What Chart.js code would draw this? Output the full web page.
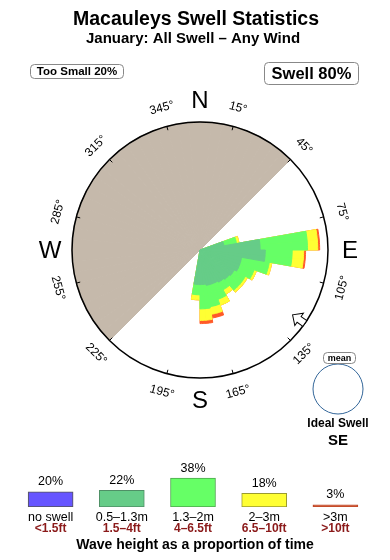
<!DOCTYPE html>
<html>
<head>
<meta charset="utf-8">
<title>Macauleys Swell Statistics</title>
<script src="https://cdn.jsdelivr.net/npm/chart.js@4.4.1/dist/chart.umd.min.js"></script>
<style>
  body { margin: 0; background: #fff; }
  #wrap { position: relative; width: 390px; height: 560px; }
  #rose { position: absolute; left: 0; top: 0; }
  #bars { position: absolute; left: 0; top: 455px; }
</style>
</head>
<body>
<div id="wrap">
  <canvas id="rose" width="390" height="560"></canvas>
  <canvas id="bars" width="390" height="105"></canvas>
</div>
<script>
// direction bins (centre of each 10 deg bin, compass bearing)
const directions = [75, 85, 95, 105, 115, 125, 135, 145, 155, 165, 175, 185];
const binWidth = 10;
// share of time per bin for each wave height band (%)
const band1 = [1.9, 4.7, 5.1, 3.3, 3.3, 3.1, 3.0, 2.9, 2.8, 2.8, 2.7, 2.7]; // 0.5-1.3m
const band2 = [1.0, 3.7, 2.1, 2.2, 1.2, 1.0, 1.1, 0.7, 1.3, 1.7, 1.9, 0.8]; // 1.3-2m
const band3 = [0.2, 0.8, 0.9, 0.2, 0.2, 0.2, 0.2, 0.4, 0.5, 0.6, 0.9, 0.4]; // 2-3m
const band4 = [0.0, 0.15, 0.15, 0, 0, 0, 0, 0, 0, 0.3, 0.25, 0];           // >3m
const roseMax = 10;

// sheltered directions (swell can't reach)
const shelterFrom = 225;
const shelterTo = 45;
const meanDirection = 125;

const degreeTicks = [15, 45, 75, 105, 135, 165, 195, 225, 255, 285, 315, 345];
const compassPoints = ['N', 'E', 'S', 'W'];
const compassAngles = [0, 90, 180, 270];

// bottom legend
const bandNames = ['no swell', '0.5–1.3m', '1.3–2m', '2–3m', '>3m'];
const bandFeet = ['<1.5ft', '1.5–4ft', '4–6.5ft', '6.5–10ft', '>10ft'];
const bandShare = [20, 22, 38, 18, 3];
const bandColors = ['#6655ff', '#66cc88', '#66ff66', '#ffff33', '#d05530'];
const bandBorders = ['#555', '#4f8f66', '#4fa64f', '#9a9a30', '#c04a28'];
const tooSmall = 20;
const swellShare = 80;

const fontFamily = '"Liberation Sans", Arial, Helvetica, sans-serif';
Chart.defaults.font.family = fontFamily;
Chart.defaults.color = '#000';

// polar area needs equal slices, so split the circle in 5 deg pieces
const sliceStep = 5;
const sliceAngles = [];
for (let a = 0; a < 360; a += sliceStep) sliceAngles.push(a);

function toSlices(values) {
    return sliceAngles.map(function(a) {
        const k = directions.findIndex(d => a >= d - binWidth / 2 && a < d + binWidth / 2);
        return k === -1 ? 0 : values[k];
    });
}

// stacked totals, outer band first gets drawn underneath
const upTo1 = band1;
const upTo2 = band1.map((v, i) => v + band2[i]);
const upTo3 = upTo2.map((v, i) => v + band3[i]);
const upTo4 = upTo3.map((v, i) => v + band4[i]);
const shelter = sliceAngles.map(a => (a >= shelterFrom || a < shelterTo) ? roseMax : 0);

function drawBox(ctx, x, y, w, h, text, font) {
    ctx.save();
    ctx.beginPath();
    ctx.roundRect(x + 0.5, y + 0.5, w, h, 4);
    ctx.fillStyle = '#fff';
    ctx.fill();
    ctx.strokeStyle = '#888';
    ctx.lineWidth = 1;
    ctx.stroke();
    ctx.fillStyle = '#000';
    ctx.font = font + ' ' + fontFamily;
    ctx.textAlign = 'center';
    ctx.textBaseline = 'middle';
    ctx.fillText(text, x + w / 2 + 0.5, y + h / 2 + 1);
    ctx.restore();
}

const roseDecor = {
    id: 'roseDecor',
    afterDraw(chart) {
        const ctx = chart.ctx;
        const r = chart.scales.r;
        const cx = r.xCenter, cy = r.yCenter, R = r.drawingArea;
        const pt = function(deg, d) {
            const t = deg * Math.PI / 180;
            return [cx + d * Math.sin(t), cy - d * Math.cos(t)];
        };

        ctx.save();
        ctx.fillStyle = '#000';
        ctx.textAlign = 'center';
        ctx.textBaseline = 'middle';

        // titulos
        ctx.font = 'bold 19.5px ' + fontFamily;
        ctx.fillText('Macauleys Swell Statistics', 196, 20);
        ctx.font = 'bold 15px ' + fontFamily;
        ctx.fillText('January: All Swell – Any Wind', 193, 39);

        drawBox(ctx, 30, 64, 93, 14, 'Too Small ' + tooSmall + '%', 'bold 11.5px');
        drawBox(ctx, 264, 62, 94, 22, 'Swell ' + swellShare + '%', 'bold 16.5px');

        // degree ticks + labels
        ctx.strokeStyle = '#000';
        ctx.lineWidth = 1;
        degreeTicks.forEach(function(deg) {
            const a = pt(deg, R - 4), b = pt(deg, R);
            ctx.beginPath();
            ctx.moveTo(a[0], a[1]);
            ctx.lineTo(b[0], b[1]);
            ctx.stroke();
            const p = pt(deg, R + 19);
            const rot = (deg <= 90 || deg >= 270) ? deg : deg - 180;
            ctx.save();
            ctx.translate(p[0], p[1]);
            ctx.rotate(rot * Math.PI / 180);
            ctx.font = '12px ' + fontFamily;
            ctx.fillText(deg + '°', 0, 0);
            ctx.restore();
        });

        ctx.font = '24px ' + fontFamily;
        compassPoints.forEach(function(name, i) {
            const p = pt(compassAngles[i], R + 22);
            ctx.fillText(name, p[0], p[1] + 1);
        });

        // mean direction arrow
        ctx.save();
        ctx.translate(cx, cy);
        ctx.rotate(meanDirection * Math.PI / 180);
        ctx.beginPath();
        ctx.moveTo(0, -(R - 15));
        ctx.lineTo(7.5, -(R - 7));
        ctx.lineTo(3.5, -(R - 7));
        ctx.lineTo(3.5, -R);
        ctx.lineTo(-3.5, -R);
        ctx.lineTo(-3.5, -(R - 7));
        ctx.lineTo(-7.5, -(R - 7));
        ctx.closePath();
        ctx.fillStyle = '#fff';
        ctx.fill();
        ctx.strokeStyle = '#000';
        ctx.lineWidth = 1;
        ctx.stroke();
        ctx.restore();

        // ideal swell marker
        ctx.strokeStyle = '#336699';
        ctx.lineWidth = 1;
        ctx.beginPath();
        ctx.arc(338, 389, 25, 0, Math.PI * 2);
        ctx.stroke();
        drawBox(ctx, 323, 352, 32, 11, 'mean', 'bold 9px');
        ctx.fillStyle = '#000';
        ctx.font = 'bold 12px ' + fontFamily;
        ctx.fillText('Ideal Swell', 338, 424);
        ctx.font = 'bold 15px ' + fontFamily;
        ctx.fillText('SE', 338, 441);
        ctx.restore();
    }
};

function roseSet(label, data, color) {
    return { label: label, data: data, backgroundColor: color, borderColor: color, borderWidth: 1 };
}

const roseChart = new Chart(document.getElementById('rose'), {
    type: 'polarArea',
    data: {
        labels: sliceAngles,
        datasets: [
            roseSet('0.5-1.3m', toSlices(upTo1), '#66cc88'),
            roseSet('1.3-2m', toSlices(upTo2), '#66ff66'),
            roseSet('2-3m', toSlices(upTo3), '#ffff33'),
            roseSet('>3m', toSlices(upTo4), '#ff5a28'),
            roseSet('sheltered', shelter, '#c5b9ab')
        ]
    },
    options: {
        responsive: false,
        animation: false,
        layout: { padding: { left: 72, right: 62, top: 122, bottom: 182 } },
        plugins: { legend: { display: false }, tooltip: { enabled: false } },
        scales: {
            r: {
                min: 0,
                max: roseMax,
                startAngle: 0,
                ticks: { display: false, stepSize: roseMax },
                grid: { color: '#000', lineWidth: 1.5, z: 1 },
                angleLines: { display: false },
                pointLabels: { display: false }
            }
        }
    },
    plugins: [roseDecor]
});

const barText = {
    id: 'barText',
    afterDatasetsDraw(chart) {
        const ctx = chart.ctx;
        const meta = chart.getDatasetMeta(0);
        const base = chart.chartArea.bottom;
        ctx.save();
        ctx.textAlign = 'center';
        ctx.textBaseline = 'middle';
        meta.data.forEach(function(bar, i) {
            ctx.fillStyle = '#000';
            ctx.font = '12.5px ' + fontFamily;
            ctx.fillText(bandShare[i] + '%', bar.x, bar.y - 10);
            ctx.fillText(bandNames[i], bar.x, base + 11);
            ctx.fillStyle = '#8b1a1a';
            ctx.font = 'bold 12px ' + fontFamily;
            ctx.fillText(bandFeet[i], bar.x, base + 22);
        });
        ctx.fillStyle = '#000';
        ctx.font = 'bold 14px ' + fontFamily;
        ctx.fillText('Wave height as a proportion of time', 195, base + 38);
        ctx.restore();
    }
};

const barChart = new Chart(document.getElementById('bars'), {
    type: 'bar',
    data: {
        labels: bandNames,
        datasets: [{
            data: bandShare,
            backgroundColor: bandColors,
            borderColor: bandBorders,
            borderWidth: 1,
            borderSkipped: false,
            barThickness: 45
        }]
    },
    options: {
        responsive: false,
        animation: false,
        layout: { padding: { left: 15, right: 19, top: 14, bottom: 53 } },
        plugins: { legend: { display: false }, tooltip: { enabled: false } },
        scales: {
            x: { display: false },
            y: { display: false, min: 0, max: 50 }
        }
    },
    plugins: [barText]
});
</script>
</body>
</html>
